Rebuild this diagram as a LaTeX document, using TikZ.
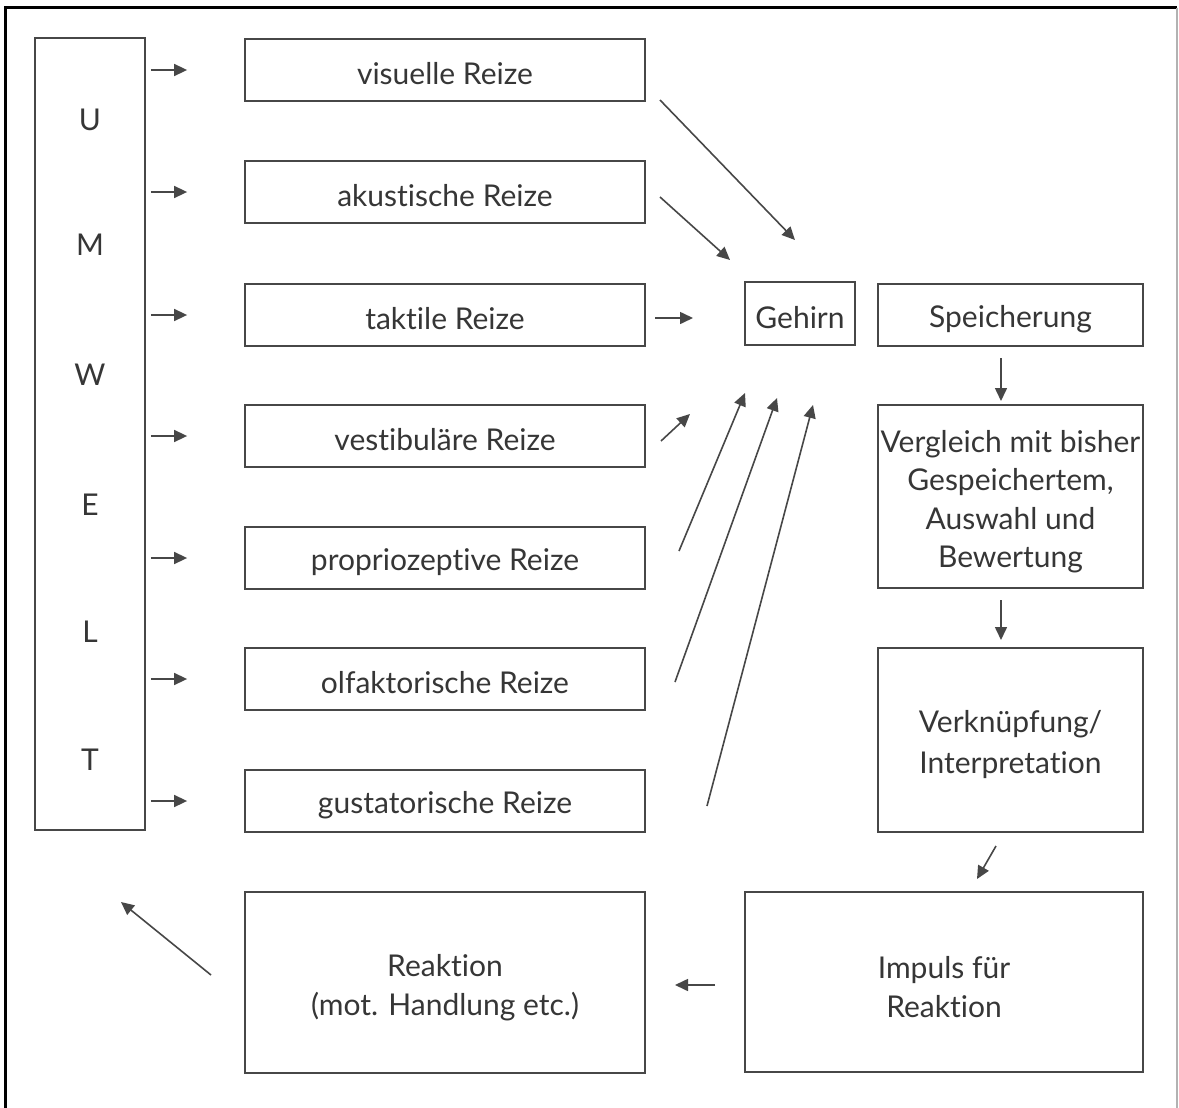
\documentclass[tikz,border=0pt]{standalone}
\usepackage{fontspec}
\setmainfont[Ligatures=NoCommon]{Lato}
\usetikzlibrary{arrows.meta,calc}
\definecolor{ink}{HTML}{363636}
\definecolor{edge}{HTML}{474747}
\begin{document}
\begin{tikzpicture}[x=1pt,y=-1pt,
  box/.style={draw=edge, line width=1.8pt, inner sep=0pt},
  txt/.style={align=center, text=ink, inner sep=0pt,
              font=\fontsize{30}{38.5}\selectfont},
  letter/.style={text=ink, inner sep=0pt, font=\fontsize{30}{36}\selectfont},
  arr/.style={draw=edge, line width=1.6pt, -{Triangle[length=13pt,width=12pt]}}]
\useasboundingbox (0,0) rectangle (1179,1108);
\fill[white] (0,0) rectangle (1179,1108);
% page frame
\draw[black, line width=3pt] (5,1108) -- (5,8) -- (1177,8);
\draw[gray!60, line width=1.5pt] (1177,8) -- (1177,1108);

% UMWELT column
\node[box, minimum width=110pt, minimum height=792pt] (umwelt) at (90,434) {};
\node[letter] (lU) at (90,120) {U};
\node[letter] (lM) at (90,245) {M};
\node[letter] (lW) at (90,375) {W};
\node[letter] (lE) at (90,505) {E};
\node[letter] (lL) at (90,632) {L};
\node[letter] (lT) at (90,760) {T};

% stimulus boxes
\foreach \n/\y/\t in {vis/70/visuelle Reize, aku/192/akustische Reize, tak/315/taktile Reize,
                      ves/436/vestibuläre Reize, pro/558/propriozeptive Reize,
                      olf/679/olfaktorische Reize, gus/801/gustatorische Reize}{
  \node[box, minimum width=400pt, minimum height=62pt] (\n) at (445,\y) {};
  \node[txt] (\n-t) at ($(\n)+(0,4)$) {\t};
  \draw[arr] ($(umwelt.east|-\n)+(5,0)$) -- ($(\n.west)+(-57,0)$);
}

% right side boxes
\node[box, minimum width=110pt, minimum height=63pt] (gehirn) at (800,313.5) {};
\node[box, minimum width=265pt, minimum height=62pt] (speich) at (1010.5,315) {};
\node[box, minimum width=265pt, minimum height=183pt] (vergl) at (1010.5,496.5) {};
\node[box, minimum width=265pt, minimum height=184pt] (verkn) at (1010.5,740) {};
\node[box, minimum width=398pt, minimum height=180pt] (impuls) at (944,982) {};
\node[box, minimum width=400pt, minimum height=181pt] (reakt) at (445,982.5) {};

\node[txt] (gehirn-t) at ($(gehirn)+(0,4)$) {Gehirn};
\node[txt] (speich-t) at ($(speich)+(0,4)$) {Speicherung};
\node[txt] (vergl-t) at ($(vergl)+(0,5)$) {Vergleich mit bisher\\Gespeichertem,\\Auswahl und\\Bewertung};
\node[txt, font=\fontsize{30}{41}\selectfont] (verkn-t) at ($(verkn)+(0,5)$) {Verknüpfung/\\Interpretation};
\node[txt] (impuls-t) at ($(impuls)+(0,5)$) {Impuls für\\Reaktion};
\node[txt] (reakt-t) at ($(reakt)+(0,5)$) {Reaktion\\(mot. Handlung etc.)};

% free connector ends
\coordinate (a1s) at (660,100);  \coordinate (a1e) at (795,240);
\coordinate (a2s) at (660,197);  \coordinate (a2e) at (730,260);
\coordinate (a3s) at (655,318);  \coordinate (a3e) at (693,318);
\coordinate (a4s) at (661,441);  \coordinate (a4e) at (690,414);
\coordinate (a5s) at (679,551);  \coordinate (a5e) at (745,393);
\coordinate (a6s) at (675,682);  \coordinate (a6e) at (777,398);
\coordinate (a7s) at (707,806);  \coordinate (a7e) at (813,405);
\coordinate (b1s) at (1001,358); \coordinate (b1e) at (1001,401);
\coordinate (b2s) at (1001,600); \coordinate (b2e) at (1001,640);
\coordinate (b3s) at (996,846);  \coordinate (b3e) at (977,879);
\coordinate (b4s) at (715,985);  \coordinate (b4e) at (675,985);
\coordinate (b5s) at (211,975);  \coordinate (b5e) at (121,902);

\foreach \i in {1,...,7}{ \draw[arr] (a\i s) -- (a\i e); }
\foreach \i in {1,...,5}{ \draw[arr] (b\i s) -- (b\i e); }
\end{tikzpicture}
\end{document}
